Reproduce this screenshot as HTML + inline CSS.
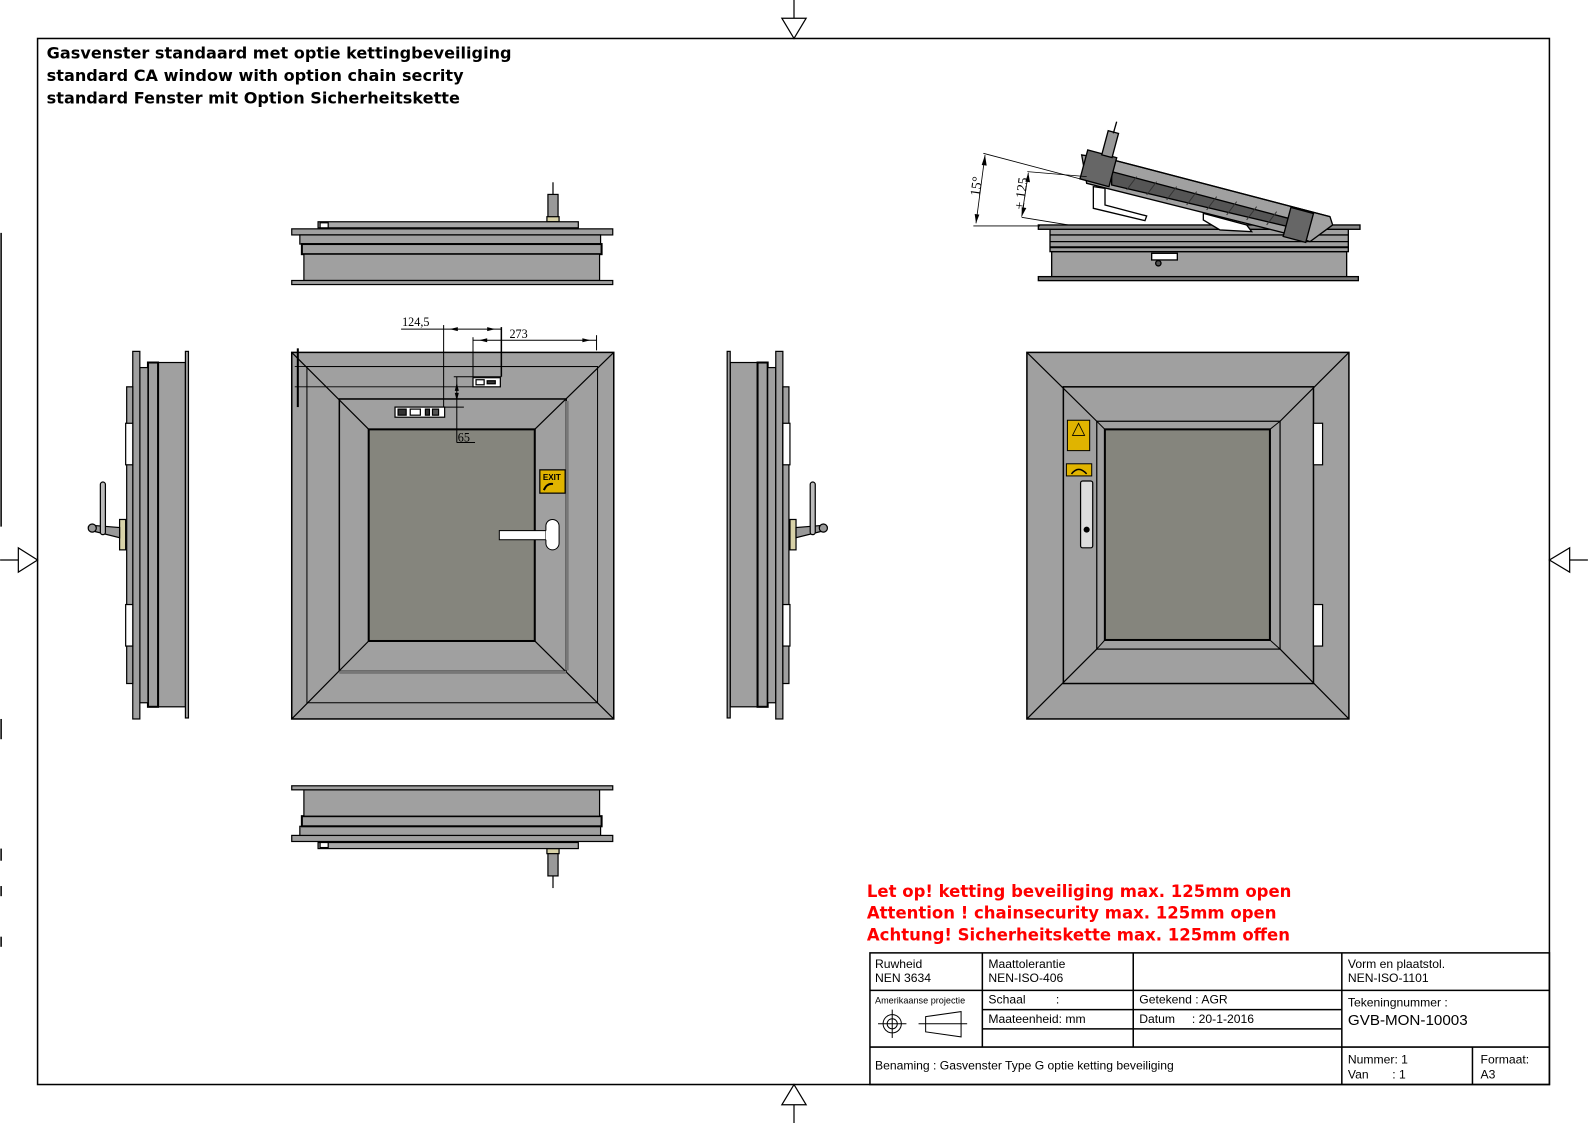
<!DOCTYPE html>
<html><head><meta charset="utf-8"><style>
html,body{margin:0;padding:0;background:#fff;}
svg{display:block;}
.t{font-family:"Liberation Sans",sans-serif;}
.v{font-family:"DejaVu Sans",sans-serif;}
</style></head><body>
<svg width="1588" height="1123" viewBox="0 0 1568 1109" xmlns="http://www.w3.org/2000/svg" class="t">
<rect x="0" y="0" width="1568" height="1109" fill="#fff"/>
<rect x="37" y="38" width="1493" height="1033" fill="none" stroke="#000" stroke-width="1.5"/>
<g fill="#fff" stroke="#000" stroke-width="1.2">
<line x1="784" y1="0" x2="784" y2="38"/><polygon points="772,18 796,18 784,38"/>
<line x1="784" y1="1071" x2="784" y2="1109"/><polygon points="772,1091 796,1091 784,1071"/>
<line x1="0" y1="553" x2="37" y2="553"/><polygon points="18,541 18,565 37,553"/>
<line x1="1530" y1="553" x2="1568" y2="553"/><polygon points="1550,541 1550,565 1530,553"/>
</g>
<g stroke="#000" stroke-width="1.5">
<line x1="1" y1="230" x2="1" y2="520"/><line x1="1" y1="710" x2="1" y2="730"/><line x1="1" y1="838" x2="1" y2="850"/><line x1="1" y1="875" x2="1" y2="885"/><line x1="1" y1="925" x2="1" y2="935"/>
</g>
<g font-weight="bold" font-size="15.9" fill="#000" class="v">
<text x="46" y="58">Gasvenster standaard met optie kettingbeveiliging</text>
<text x="46" y="80">standard CA window with option chain secrity</text>
<text x="46" y="102">standard Fenster mit Option Sicherheitskette</text>
</g>

<g id="topv" stroke="#000" stroke-width="1.2">
<line x1="546" y1="180" x2="546" y2="192"/>
<rect x="541" y="192" width="10" height="27" fill="#999"/>
<rect x="540" y="214" width="12" height="5" fill="#d8d2a8"/>
<rect x="314" y="219" width="257" height="6" fill="#a8a8a8"/>
<rect x="316" y="220" width="8" height="5" fill="#fff"/>
<rect x="288" y="226" width="317" height="6" fill="#a0a0a0"/>
<rect x="296" y="232" width="297" height="9" fill="#a0a0a0"/>
<rect x="298" y="241" width="296" height="10" fill="#a0a0a0" stroke-width="2"/>
<rect x="300" y="251" width="292" height="26" fill="#a0a0a0"/>
<rect x="288" y="277" width="317" height="4" fill="#a0a0a0"/>
</g>
<use href="#topv" transform="translate(0,1057) scale(1,-1)"/>

<g stroke="#000" stroke-width="1.5">
<rect x="288" y="348" width="318" height="362" fill="#a0a0a0"/>
<rect x="303" y="362" width="287" height="332" fill="none" stroke-width="1"/>
<rect x="335" y="394" width="224" height="269" fill="#a0a0a0"/>
<line x1="288" y1="348" x2="364" y2="424" stroke-width="1.2"/>
<line x1="606" y1="348" x2="528" y2="424" stroke-width="1.2"/>
<line x1="288" y1="710" x2="364" y2="633" stroke-width="1.2"/>
<line x1="606" y1="710" x2="528" y2="633" stroke-width="1.2"/>
<rect x="364" y="424" width="164" height="209" fill="#85857d" stroke-width="2"/>
<line x1="335" y1="664" x2="559" y2="664" stroke="#777" stroke-width="3"/>
<line x1="560" y1="396" x2="560" y2="662" stroke="#777" stroke-width="3"/>
</g>
<g stroke="#000" stroke-width="1" fill="none">
<line x1="291" y1="362" x2="590" y2="362" stroke-width="0.8"/>
<line x1="291" y1="382" x2="467" y2="382" stroke-width="0.8"/>
<line x1="294" y1="344" x2="294" y2="402" stroke-width="2"/>
<line x1="396" y1="325" x2="495" y2="325"/>
<line x1="438" y1="321" x2="438" y2="402"/>
<line x1="495" y1="323" x2="495" y2="372" stroke-width="1.5"/>
<line x1="467" y1="336" x2="589" y2="336"/>
<line x1="467" y1="333" x2="467" y2="372"/>
<line x1="589" y1="331" x2="589" y2="346"/>
<line x1="451" y1="372" x2="451" y2="437"/>
<line x1="448" y1="372" x2="495" y2="372"/>
<line x1="420" y1="402" x2="458" y2="402"/>
<line x1="451" y1="437" x2="469" y2="437"/>
</g>
<g fill="#000">
<polygon points="444,325 452,323 452,327"/><polygon points="489,325 481,323 481,327"/>
<polygon points="473,336 481,334 481,338"/><polygon points="583,336 575,334 575,338"/>
<polygon points="451,378 449,386 453,386"/><polygon points="451,396 449,388 453,388"/>
</g>
<g font-size="12" fill="#000" font-family="Liberation Serif,serif">
<text x="397" y="322">124,5</text><text x="503" y="334">273</text><text x="452" y="436">65</text>
</g>
<g stroke="#000" stroke-width="1.2">
<rect x="390" y="402" width="49" height="10" fill="#fff"/>
<rect x="393" y="404" width="8" height="6" fill="#333"/><rect x="405" y="404" width="10" height="6" fill="#fff"/>
<rect x="420" y="404" width="4" height="6" fill="#333"/><rect x="427" y="404" width="6" height="6" fill="#555"/>
<rect x="467" y="373" width="27" height="9" fill="#fff"/>
<rect x="470" y="375" width="8" height="5" fill="#fff"/><rect x="481" y="376" width="8" height="3" fill="#333"/>
<rect x="533" y="464" width="25" height="23" fill="#e0b400"/>
</g>
<text x="536" y="474" font-size="8" font-weight="bold" fill="#000">EXIT</text>
<path d="M537 484 Q540 477 546 478" stroke="#000" stroke-width="2" fill="none"/>
<g stroke="#000" stroke-width="1">
<rect x="493" y="524" width="58" height="9" fill="#fff"/>
<rect x="539" y="513" width="13" height="30" rx="6.5" fill="#fff"/>
<rect x="539" y="524" width="12" height="9" fill="#fff" stroke="none"/>
</g>

<g id="sidev" stroke="#000" stroke-width="1.2">
<rect x="156" y="358" width="27" height="340" fill="#a0a0a0"/>
<rect x="183" y="347" width="3" height="362" fill="#a0a0a0"/>
<rect x="146" y="358" width="10" height="340" fill="#a0a0a0" stroke-width="2"/>
<rect x="138" y="363" width="8" height="331" fill="#a0a0a0"/>
<rect x="131" y="347" width="7" height="363" fill="#a0a0a0"/>
<rect x="125" y="382" width="6" height="293" fill="#a0a0a0"/>
<rect x="124" y="418" width="7" height="41" fill="#fff"/>
<rect x="124" y="597" width="7" height="41" fill="#fff"/>
<rect x="118" y="513" width="6" height="30" fill="#d8d2a8"/>
<polygon points="94,519 118,521 118,531 94,525" fill="#999"/>
<rect x="99" y="476" width="5" height="52" rx="2.5" fill="#bbb"/>
<circle cx="91" cy="521.5" r="4" fill="#999"/>
</g>
<use href="#sidev" transform="translate(904,0) scale(-1,1)"/>

<g stroke="#000" stroke-width="1.5">
<rect x="1014" y="348" width="318" height="362" fill="#a0a0a0"/>
<rect x="1050" y="382" width="247" height="293" fill="#a0a0a0"/>
<rect x="1083" y="416" width="181" height="225" fill="#a0a0a0" stroke-width="1.2"/>
<line x1="1014" y1="348" x2="1083" y2="416" stroke-width="1.2"/>
<line x1="1332" y1="348" x2="1264" y2="416" stroke-width="1.2"/>
<line x1="1014" y1="710" x2="1083" y2="641" stroke-width="1.2"/>
<line x1="1332" y1="710" x2="1264" y2="641" stroke-width="1.2"/>
<line x1="1083" y1="416" x2="1091" y2="424" stroke-width="1"/>
<line x1="1264" y1="416" x2="1254" y2="424" stroke-width="1"/>
<line x1="1083" y1="641" x2="1091" y2="632" stroke-width="1"/>
<line x1="1264" y1="641" x2="1254" y2="632" stroke-width="1"/>
<rect x="1091" y="424" width="163" height="208" fill="#85857d" stroke-width="2"/>
<rect x="1297" y="418" width="9" height="41" fill="#fff" stroke-width="1.2"/>
<rect x="1297" y="597" width="9" height="41" fill="#fff" stroke-width="1.2"/>
<rect x="1054" y="415" width="22" height="30" fill="#e0b400" stroke-width="1"/>
<polygon points="1065,418 1059,430 1071,430" fill="none" stroke-width="0.8"/>
<rect x="1053" y="458" width="25" height="12" fill="#e0b400" stroke-width="1"/>
<path d="M1058 468 Q1065 459 1073 468" fill="none" stroke-width="1.5"/>
<rect x="1067" y="475" width="12" height="66" rx="2" fill="#ddd" stroke-width="1.2"/>
<circle cx="1073" cy="523" r="3" fill="#000" stroke="none"/>
</g>

<g transform="translate(928.2,108.6) scale(0.32915)" stroke="#000" stroke-width="4">
<rect x="335" y="425" width="885" height="80" fill="#a0a0a0"/>
<rect x="295" y="500" width="960" height="12" fill="#777"/>
<rect x="330" y="358" width="895" height="67" fill="#a0a0a0"/>
<line x1="330" y1="375" x2="1225" y2="375"/><line x1="330" y1="395" x2="1225" y2="395"/><line x1="330" y1="412" x2="1225" y2="412" stroke-width="6"/>
<rect x="295" y="345" width="965" height="13" fill="#888"/>
<rect x="635" y="430" width="77" height="20" fill="#fff"/>
<circle cx="655" cy="460" r="8" fill="#555"/>
<polygon points="460,230 495,235 495,285 620,318 615,332 460,295" fill="#fff"/>
<polygon points="790,310 920,345 935,365 840,360 790,330" fill="#fff"/>
<polygon points="425,135 520,150 1170,320 1178,345 1110,395 1045,372 440,220" fill="#a0a0a0"/>
<polygon points="515,185 1045,325 1045,350 515,225" fill="#555"/>
<g stroke="#333" stroke-width="3">
<line x1="560" y1="240" x2="590" y2="200"/><line x1="620" y1="255" x2="650" y2="215"/><line x1="680" y1="270" x2="710" y2="230"/><line x1="740" y1="285" x2="770" y2="245"/><line x1="800" y1="300" x2="830" y2="260"/><line x1="860" y1="315" x2="890" y2="275"/><line x1="920" y1="330" x2="950" y2="290"/><line x1="980" y1="345" x2="1010" y2="305"/>
</g>
<line x1="520" y1="150" x2="1170" y2="320"/>
<rect x="1040" y="300" width="70" height="90" fill="#666" transform="rotate(15 1075 345)"/>
<rect x="430" y="130" width="90" height="90" fill="#666" transform="rotate(15 475 175)"/>
<rect x="495" y="65" width="32" height="75" fill="#999" transform="rotate(15 511 100)"/>
<line x1="520" y1="70" x2="530" y2="35"/>
<g stroke-width="2.5" fill="none">
<line x1="130" y1="130" x2="440" y2="212"/>
<line x1="100" y1="348" x2="300" y2="348"/>
<line x1="135" y1="135" x2="108" y2="340"/>
<line x1="262" y1="185" x2="440" y2="200"/>
<line x1="245" y1="322" x2="385" y2="345"/>
<line x1="265" y1="188" x2="245" y2="320"/>
</g>
<polygon points="135,135 125,165 140,167" fill="#000" stroke="none"/>
<polygon points="108,340 104,312 118,314" fill="#000" stroke="none"/>
<polygon points="265,188 256,215 270,217" fill="#000" stroke="none"/>
<polygon points="245,320 245,292 259,294" fill="#000" stroke="none"/>
<text x="0" y="0" font-size="42" stroke="none" fill="#000" font-family="Liberation Serif,serif" transform="translate(118,260) rotate(-82)">15°</text>
<text x="0" y="0" font-size="42" stroke="none" fill="#000" font-family="Liberation Serif,serif" transform="translate(250,300) rotate(-82)">± 125</text>
</g>

<g font-weight="bold" font-size="16.3" fill="#ff0000" class="v">
<text x="856" y="886">Let op! ketting beveiliging max. 125mm open</text>
<text x="856" y="907">Attention ! chainsecurity max. 125mm open</text>
<text x="856" y="929">Achtung! Sicherheitskette max. 125mm offen</text>
</g>

<g stroke="#000" stroke-width="1.5" fill="none">
<rect x="859" y="941" width="671" height="130"/>
<line x1="970" y1="941" x2="970" y2="1034"/>
<line x1="1119" y1="941" x2="1119" y2="1034"/>
<line x1="1325" y1="941" x2="1325" y2="1071"/>
<line x1="1454" y1="1034" x2="1454" y2="1071"/>
<line x1="859" y1="978" x2="1530" y2="978"/>
<line x1="970" y1="997" x2="1325" y2="997"/>
<line x1="970" y1="1016" x2="1325" y2="1016"/>
<line x1="859" y1="1034" x2="1530" y2="1034"/>
</g>
<g stroke="#000" stroke-width="1" fill="none">
<circle cx="881" cy="1011" r="9"/><circle cx="881" cy="1011" r="5"/>
<line x1="867" y1="1011" x2="895" y2="1011"/><line x1="881" y1="997" x2="881" y2="1025"/>
<polygon points="914,1004 949,999 949,1024 914,1019"/>
<line x1="907" y1="1011" x2="955" y2="1011"/>
</g>
<g font-size="12" fill="#000">
<text x="864" y="956">Ruwheid</text><text x="864" y="970">NEN 3634</text>
<text x="976" y="956">Maattolerantie</text><text x="976" y="970">NEN-ISO-406</text>
<text x="1331" y="956">Vorm en plaatstol.</text><text x="1331" y="970">NEN-ISO-1101</text>
<text x="864" y="991" font-size="9">Amerikaanse projectie</text>
<text x="976" y="991">Schaal&#160;&#160;&#160;&#160;&#160;&#160;&#160;&#160;&#160;:</text>
<text x="976" y="1010">Maateenheid: mm</text>
<text x="1125" y="991">Getekend : AGR</text>
<text x="1125" y="1010">Datum&#160;&#160;&#160;&#160;&#160;: 20-1-2016</text>
<text x="1331" y="994">Tekeningnummer :</text>
<text x="1331" y="1012" font-size="15">GVB-MON-10003</text>
<text x="864" y="1056">Benaming : Gasvenster Type G optie ketting beveiliging</text>
<text x="1331" y="1050">Nummer: 1</text><text x="1331" y="1065">Van&#160;&#160;&#160;&#160;&#160;&#160;&#160;: 1</text>
<text x="1462" y="1050">Formaat:</text><text x="1462" y="1065">A3</text>
</g>
</svg>
</body></html>
